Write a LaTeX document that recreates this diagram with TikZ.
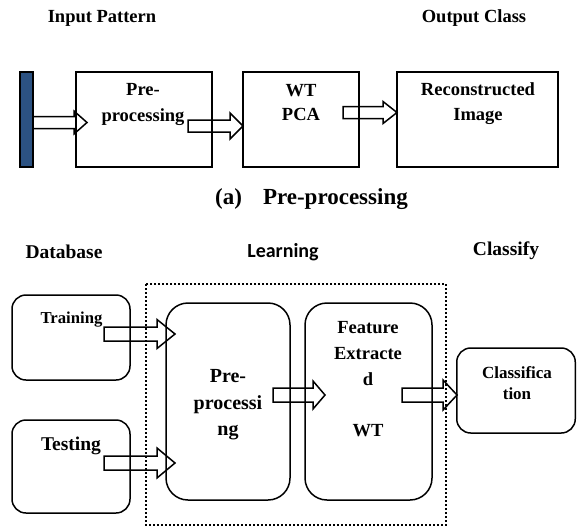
\documentclass[tikz,border=0pt]{standalone}
\usepackage{fontspec}
\setmainfont{Liberation Serif}
\newfontfamily\labelsans{Carlito}
\usetikzlibrary{calc}
\definecolor{barblue}{RGB}{44,82,130}

% fat block arrow: #1 tail point, #2 tip point, #3 shaft half-width,
% #4 head half-width, #5 head length
\newcommand{\fatarrow}[5]{%
  \draw[fatarr] let \p1=(#1), \p2=(#2) in
    (\x1,\y2+#3) -- (\x2-#5,\y2+#3) -- (\x2-#5,\y2+#4) -- (\x2,\y2)
    -- (\x2-#5,\y2-#4) -- (\x2-#5,\y2-#3) -- (\x1,\y2-#3) -- cycle;}

\tikzset{
  box/.style={draw, line width=1.5pt, rectangle, inner sep=0pt},
  rbox/.style={box, rounded corners=14pt},
  bigrbox/.style={box, rounded corners=22pt},
  fatarr/.style={draw, fill=white, line width=1.5pt, line join=miter},
  lbl/.style={inner sep=0pt, align=center, font=\bfseries},
  dotbox/.style={line width=1.8pt, dash pattern=on 1.8pt off 2.2pt},
}

\begin{document}
\begin{tikzpicture}[x=1pt, y=-1pt]
\useasboundingbox (0,0) rectangle (577,528);

% ---------- (a) pre-processing chain ----------
\node[lbl, font=\fontsize{18.5}{22}\selectfont\bfseries] (inlbl) at (102,18) {Input Pattern};
\node[lbl, font=\fontsize{18.5}{22}\selectfont\bfseries] (outlbl) at (474,18) {Output Class};

% arrows first, boxes on top
\coordinate (a1s) at (33,122.5);   \coordinate (a1t) at (87,122.5);
\coordinate (a2s) at (188,126);    \coordinate (a2t) at (243,126);
\coordinate (a3s) at (343,112.5);  \coordinate (a3t) at (397,112.5);
\fatarrow{a1s}{a1t}{6pt}{11.5pt}{13pt}
\fatarrow{a2s}{a2t}{6pt}{13pt}{13pt}
\fatarrow{a3s}{a3t}{6pt}{11pt}{14pt}

\node[box, fill=barblue, minimum width=13pt, minimum height=95pt] (bar) at (26.5,119.5) {};
\node[box, minimum width=136pt, minimum height=95pt] (pre) at (144,119.5) {};
\node[box, minimum width=116pt, minimum height=95pt] (wt) at (301,119.5) {};
\node[box, minimum width=161pt, minimum height=95pt] (rec) at (477.5,119.5) {};

\node[lbl, font=\fontsize{18.5}{26}\selectfont\bfseries] (pretxt) at (143,104) {Pre-\\processing};
\node[lbl, font=\fontsize{18.5}{24}\selectfont\bfseries] (wttxt) at (301,103) {WT\\PCA};
\node[lbl, font=\fontsize{18.5}{25}\selectfont\bfseries] (rectxt) at (478,104) {Reconstructed\\Image};

\node[lbl, font=\fontsize{23}{27}\selectfont\bfseries] (capa) at (311.5,199)
  {(a)\hspace*{21pt}Pre-processing};

% ---------- learning / classification ----------
\node[lbl, font=\fontsize{19.5}{23}\selectfont\bfseries] (dblbl) at (64,252) {Database};
\node[lbl, font=\fontsize{20}{24}\selectfont\labelsans\bfseries] (learnlbl) at (283,252) {Learning};
\node[lbl, font=\fontsize{19.5}{23}\selectfont\bfseries] (clslbl) at (506,251) {Classify};

\coordinate (trs) at (104,334);  \coordinate (trt) at (175,334);
\coordinate (tes) at (104,463);  \coordinate (tet) at (175,463);
\coordinate (mds) at (273,395);  \coordinate (mdt) at (325,395);
\coordinate (rts) at (402,395);  \coordinate (rtt) at (457,395);
\fatarrow{trs}{trt}{7pt}{14.5pt}{18pt}
\fatarrow{tes}{tet}{7pt}{15pt}{18pt}
\fatarrow{mds}{mdt}{7pt}{14pt}{12pt}
\fatarrow{rts}{rtt}{7pt}{15pt}{14pt}

\node[rbox, minimum width=118pt, minimum height=85pt] (train) at (71,337.5) {};
\node[rbox, minimum width=118pt, minimum height=93pt] (test) at (71,466.5) {};
\node[bigrbox, minimum width=124pt, minimum height=197pt] (prep) at (228,401.5) {};
\node[bigrbox, minimum width=127pt, minimum height=197pt] (feat) at (368.5,401.5) {};
\node[rbox, minimum width=118.5pt, minimum height=85pt] (cls) at (516,390.5) {};

\node[lbl, font=\fontsize{16.7}{20}\selectfont\bfseries] (trtxt) at (71.5,320) {Training};
\node[lbl, font=\fontsize{19.5}{23}\selectfont\bfseries] (tetxt) at (71,446) {Testing};
\node[lbl, font=\fontsize{20}{26.5}\selectfont\bfseries] (preptxt) at (228,405) {Pre-\\processi\\ng};
\node[lbl, font=\fontsize{18.5}{25.75}\selectfont\bfseries] (feattxt) at (368,379.5)
  {Feature\\Extracte\\d\\[25.75pt]WT};
\node[lbl, font=\fontsize{17}{21}\selectfont\bfseries] (clstxt) at (517,383.5) {Classifica\\tion};

% dotted frame around the learning stage
\draw[dotbox] (146,284) rectangle (446,525);
\end{tikzpicture}
\end{document}
